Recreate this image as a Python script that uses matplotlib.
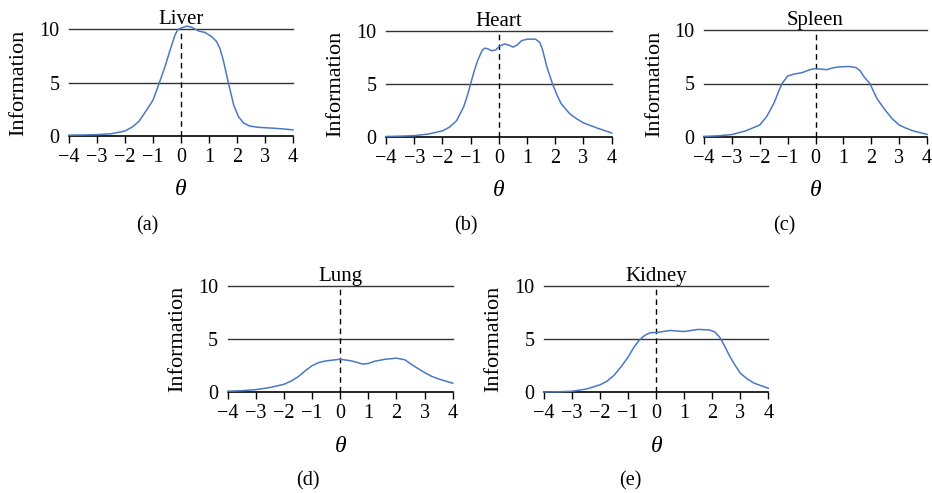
import matplotlib
matplotlib.use("Agg")
import matplotlib.pyplot as plt

plt.rcParams['font.family'] = ['Liberation Serif', 'DejaVu Serif']
plt.rcParams['mathtext.fontset'] = 'custom'
plt.rcParams['mathtext.it'] = 'Liberation Serif:italic'

# values (theta, information)
liver_t = [-4, -3.5, -3, -2.5, -2, -1.75, -1.5, -1.23, -1, -0.77, -0.57, -0.39, -0.21, -0.1, 0, 0.2, 0.38, 0.62,
           0.86, 1.1, 1.27, 1.39, 1.51, 1.69, 1.88, 2.05, 2.23, 2.46, 2.8, 3.2, 3.6, 4]
liver_i = [0.05, 0.07, 0.1, 0.18, 0.44, 0.8, 1.35, 2.4, 3.35, 5.0, 6.5, 8.05, 9.5, 10.0, 10.1, 10.3, 10.2, 9.85,
           9.7, 9.3, 8.85, 8.2, 7.1, 5.0, 2.9, 1.8, 1.2, 0.9, 0.78, 0.72, 0.65, 0.55]

heart_t = [-4, -3.5, -3, -2.5, -2, -1.75, -1.5, -1.25, -1.1, -1, -0.85, -0.75, -0.6, -0.5, -0.4, -0.25, -0.1, 0, 0.2,
           0.35, 0.5, 0.65, 0.8, 1.0, 1.3, 1.45, 1.55, 1.7, 1.9, 2.05, 2.2, 2.5, 2.75, 3, 3.5, 4]
heart_i = [0.02, 0.05, 0.1, 0.25, 0.55, 0.9, 1.5, 2.8, 4.0, 5.0, 6.4, 7.2, 8.1, 8.35, 8.3, 8.1, 8.2, 8.5, 8.75,
           8.65, 8.45, 8.65, 9.05, 9.2, 9.2, 8.9, 8.2, 6.6, 5.0, 4.0, 3.15, 2.2, 1.7, 1.3, 0.8, 0.35]

spleen_t = [-4, -3.5, -3, -2.5, -2, -1.75, -1.5, -1.3, -1.2, -1, -0.75, -0.5, -0.2, 0, 0.2, 0.4, 0.6, 0.8, 1.2, 1.45,
            1.6, 1.75, 1.95, 2.2, 2.5, 2.75, 3, 3.25, 3.5, 4]
spleen_i = [0.03, 0.08, 0.2, 0.55, 1.1, 1.9, 3.1, 4.4, 5.0, 5.7, 5.9, 6.0, 6.3, 6.4, 6.35, 6.3, 6.45, 6.55, 6.6, 6.5,
            6.2, 5.6, 5.0, 3.6, 2.5, 1.7, 1.1, 0.8, 0.55, 0.22]

lung_t = [-4, -3.5, -3, -2.5, -2, -1.75, -1.5, -1.25, -1, -0.75, -0.5, 0, 0.4, 0.8, 1.0, 1.2, 1.6, 2, 2.3, 2.6, 3,
          3.25, 3.5, 4]
lung_i = [0.1, 0.15, 0.25, 0.45, 0.75, 1.05, 1.45, 2.0, 2.5, 2.8, 2.95, 3.1, 2.95, 2.65, 2.7, 2.9, 3.1, 3.2, 3.05, 2.5,
          1.85, 1.5, 1.25, 0.85]

kidney_t = [-4, -3.5, -3, -2.5, -2, -1.75, -1.5, -1.25, -1, -0.8, -0.6, -0.4, -0.2, 0, 0.5, 1, 1.5, 1.9, 2.1, 2.3,
            2.45, 2.6, 2.8, 3, 3.25, 3.5, 4]
kidney_i = [0.03, 0.05, 0.1, 0.3, 0.7, 1.05, 1.6, 2.4, 3.3, 4.2, 4.9, 5.35, 5.6, 5.6, 5.8, 5.7, 5.9, 5.85, 5.65, 5.05,
            4.3, 3.5, 2.6, 1.8, 1.25, 0.85, 0.38]

titles = ['Liver', 'Heart', 'Spleen', 'Lung', 'Kidney']
letters = ['(a)', '(b)', '(c)', '(d)', '(e)']
xticks = [-4, -3, -2, -1, 0, 1, 2, 3, 4]
yticks = [0, 5, 10]

W, H = 932, 493
fig = plt.figure(figsize=(W / 100, H / 100), dpi=100)

# axes boxes in pixels: left, right, y of 0, y of 10
boxes = [(69, 293, 135.7, 29.3),
         (386, 611.7, 136.7, 30.7),
         (704, 927, 136.7, 30.3),
         (227.7, 452.7, 392.3, 285.7),
         (544, 768.3, 392.3, 285.7)]
letter_pos = [(147, 226), (466, 226), (784, 226), (308, 481), (630, 481)]

data = [(liver_t, liver_i), (heart_t, heart_i), (spleen_t, spleen_i),
        (lung_t, lung_i), (kidney_t, kidney_i)]

for k in range(5):
    x0, x1, yb, yt = boxes[k]
    ax = fig.add_axes([x0 / W, 1 - yb / H, (x1 - x0) / W, (yb - yt) / H])
    t, v = data[k]
    ax.plot(t, v, color='#4a78c2', lw=1.1, clip_on=False, zorder=3, solid_joinstyle='round')
    for yy in [5, 10]:
        ax.axhline(yy, color='#333333', lw=1.0, zorder=1, clip_on=False)
    ax.plot([0, 0], [0, 10], color='black', lw=1.0, ls=(0, (4, 3)), zorder=2)
    ax.set_xlim(-4, 4)
    ax.set_ylim(0, 10)
    ax.set_xticks(xticks)
    ax.set_yticks(yticks)
    for s in ['top', 'right', 'left']:
        ax.spines[s].set_visible(False)
    ax.spines['bottom'].set_linewidth(1.2)
    ax.tick_params(axis='x', direction='out', length=5, width=1, labelsize=14.5, pad=3.5)
    ax.tick_params(axis='y', length=0, labelsize=14.5, pad=7)
    ax.set_title(titles[k], fontsize=15, pad=3)
    ax.set_ylabel('Information', fontsize=16)
    ax.yaxis.set_label_coords(-0.18, 0.5)
    ax.set_xlabel(r'$\theta$', fontsize=17)
    ax.xaxis.set_label_coords(0.5, -0.41)
    lx, ly = letter_pos[k]
    fig.text(lx / W, 1 - ly / H, letters[k], fontsize=14.5, ha='center', va='center')

fig.savefig('out.png', dpi=100)
